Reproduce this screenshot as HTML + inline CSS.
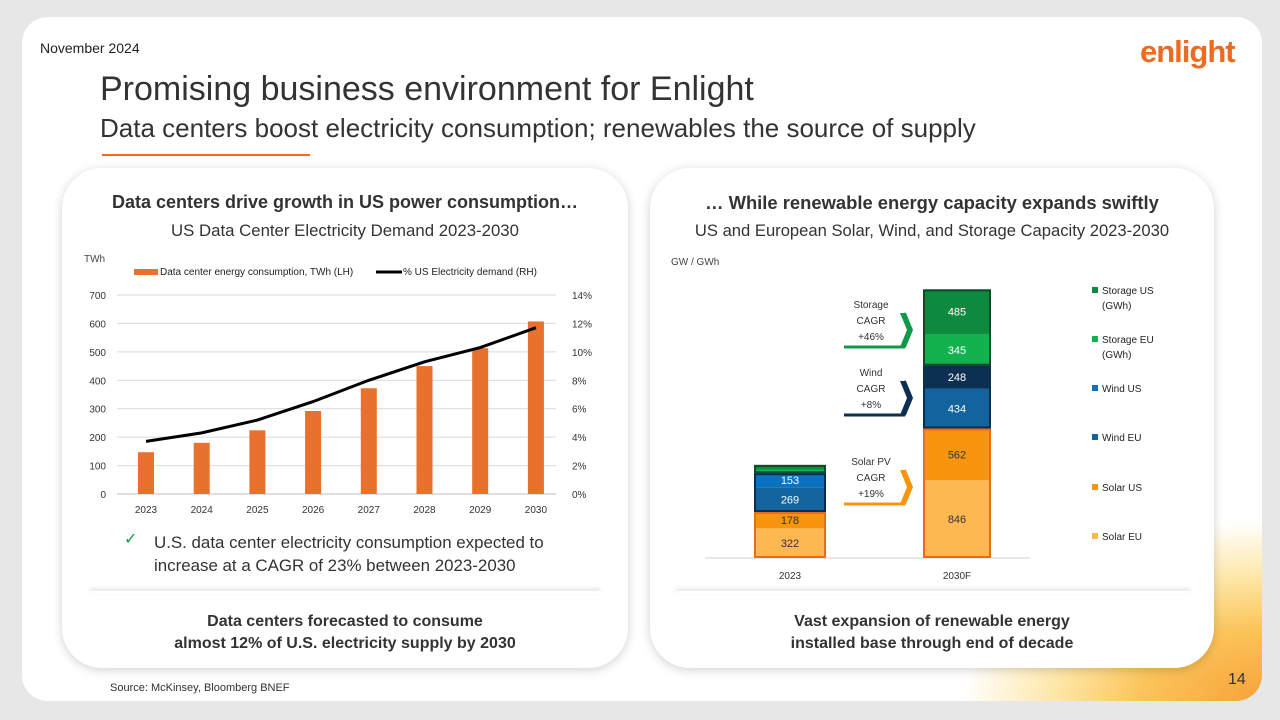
<!DOCTYPE html>
<html><head><meta charset="utf-8">
<style>
*{margin:0;padding:0;box-sizing:border-box}
body{width:1280px;height:720px;background:#e7e7e7;font-family:"Liberation Sans",sans-serif;position:relative;overflow:hidden}
.abs{position:absolute}
.slide{left:22px;top:17px;width:1240px;height:684px;background:#fff;border-radius:26px;overflow:hidden}
.glow{left:0;top:0;width:1240px;height:684px;background:radial-gradient(ellipse 300px 180px at 100% 100%,#f7a23a 0%,#fbc45a 40%,#fde6a5 68%,rgba(255,255,255,0) 100%)}
.card{background:#fff;border-radius:40px;box-shadow:0 2px 10px rgba(0,0,0,.18)}
.c{text-align:center;color:#333}
</style></head><body>
<div class="abs slide">
  <div class="abs glow"></div>
</div>
<div class="abs" style="left:40px;top:40px;font-size:14px;color:#222">November 2024</div>
<div class="abs" style="left:1140px;top:34px;font-size:31px;font-weight:bold;color:#ee6a1f;letter-spacing:-1px">enlight</div>
<div class="abs" style="left:100px;top:70px;font-size:34px;color:#333">Promising business environment for Enlight</div>
<div class="abs" style="left:100px;top:113px;font-size:26px;color:#333">Data centers boost electricity consumption; renewables the source of supply</div>
<div class="abs" style="left:102px;top:154px;width:208px;height:2px;background:#ee6a1f"></div>
<div class="abs" style="left:1228px;top:671px;font-size:16px;color:#333">14</div>
<div class="abs" style="left:110px;top:682px;font-size:11px;color:#333">Source: McKinsey, Bloomberg BNEF</div>

<div class="abs card" style="left:62px;top:168px;width:566px;height:500px"></div>
<div class="abs card" style="left:650px;top:168px;width:564px;height:500px"></div>
<div class="abs" style="left:90px;top:591px;width:510px;height:3px;box-shadow:0 -2px 4px rgba(0,0,0,.15)"></div>
<div class="abs" style="left:676px;top:591px;width:514px;height:3px;box-shadow:0 -2px 4px rgba(0,0,0,.15)"></div>

<div class="abs c" style="left:62px;top:192px;width:566px;font-size:18px;font-weight:bold">Data centers drive growth in US power consumption…</div>
<div class="abs c" style="left:62px;top:221px;width:566px;font-size:16.8px">US Data Center Electricity Demand 2023-2030</div>
<div class="abs c" style="left:650px;top:192px;width:564px;font-size:18.4px;font-weight:bold">… While renewable energy capacity expands swiftly</div>
<div class="abs c" style="left:650px;top:221px;width:564px;font-size:16.6px">US and European Solar, Wind, and Storage Capacity 2023-2030</div>

<div class="abs" style="left:124px;top:529px;font-size:16px;color:#1a9a4a">✓</div>
<div class="abs" style="left:154px;top:531px;font-size:16.9px;color:#333;line-height:23px">U.S. data center electricity consumption expected to<br>increase at a CAGR of 23% between 2023-2030</div>
<div class="abs c" style="left:62px;top:611px;width:566px;font-size:16px;font-weight:bold;line-height:22px">Data centers forecasted to consume<br>almost 12% of U.S. electricity supply by 2030</div>
<div class="abs c" style="left:650px;top:611px;width:564px;font-size:16px;font-weight:bold;line-height:22px">Vast expansion of renewable energy<br>installed base through end of decade</div>

<svg class="abs" style="left:0;top:0" width="1280" height="720" id="charts"></svg>
<script>
const years=["2023","2024","2025","2026","2027","2028","2029","2030"];
const twh=[147,180,224,292,372,450,513,607];
const pct=[3.7,4.3,5.2,6.5,8.0,9.3,10.3,11.7];
const leftTicks=[0,100,200,300,400,500,600,700];
const rightTicks=[0,2,4,6,8,10,12,14];
const stackCats=["2023","2030F"];
const seriesNames=["Solar EU","Solar US","Wind EU","Wind US","Storage EU (GWh)","Storage US (GWh)"];
const solarEU=[322,846];
const solarUS=[178,562];
const windEU=[269,434];
const windUS=[153,248];
const storageEU=[40,345];
const storageUS=[50,485];

const NS="http://www.w3.org/2000/svg";
const svg=document.getElementById('charts');
function mk(t,a,txt){const e=document.createElementNS(NS,t);for(const k in a)e.setAttribute(k,a[k]);if(txt!==undefined)e.textContent=txt;svg.appendChild(e);return e;}
const X=i=>146+i*55.7, Y=v=>494-v*199/700, YP=p=>494-p*199/14;
mk('text',{x:84,y:262,'font-size':10,fill:'#444'},'TWh');
leftTicks.forEach(t=>{
  const g=mk('line',{x1:117,x2:556,y1:Y(t),y2:Y(t),stroke:t?'#d9d9d9':'#bfbfbf','stroke-width':1});
  
  
  mk('text',{x:106,y:Y(t)+4,'font-size':10,fill:'#333','text-anchor':'end'},t);
});
rightTicks.forEach(t=>{mk('text',{x:572,y:YP(t)+4,'font-size':10,fill:'#333'},t+'%');});
twh.forEach((v,i)=>{
  const r=mk('rect',{x:X(i)-8,y:Y(v),width:16,height:494-Y(v),fill:'#e8712e'});
  
  
  mk('text',{x:X(i),y:513,'font-size':10,fill:'#333','text-anchor':'middle'},years[i]);
});
const ln=mk('polyline',{points:pct.map((p,i)=>X(i)+','+YP(p)).join(' '),fill:'none',stroke:'#000','stroke-width':3});


mk('rect',{x:134,y:269,width:24,height:6,fill:'#e8712e'});
mk('text',{x:160,y:275,'font-size':10,fill:'#222'},'Data center energy consumption, TWh (LH)');
mk('line',{x1:376,x2:402,y1:272,y2:272,stroke:'#000','stroke-width':3});
mk('text',{x:403,y:275,'font-size':10,fill:'#222'},'% US Electricity demand (RH)');
mk('text',{x:671,y:265,'font-size':10,fill:'#444'},'GW / GWh');
const base=558,k=0.092,cx=[790,957],bw=[72,68];
mk('line',{x1:705,x2:1030,y1:base,y2:base,stroke:'#d0d0d0'});
const series=[solarEU,solarUS,windEU,windUS,storageEU,storageUS];
const cols=['#fdb851','#f7950e','#13649e','#0b72bd','#12b24f','#0e8a3e'];
const txtCol=['#333','#333','#fff','#fff','#fff','#fff'];
const outl=['#e86c1a','#0b2e4f','#0c4a2a'];
stackCats.forEach((c,j)=>{
  let acc=0;const groupTop=[];
  series.forEach((s,si)=>{
    const y0=base-acc*k;acc+=s[j];const y1=base-acc*k;
    let fill=cols[si]; if(j===1&&si===3) fill='#0c2f52';
    const r=mk('rect',{x:cx[j]-bw[j]/2,y:y1,width:bw[j],height:y0-y1,fill:fill});
    
    
    if(y0-y1>12) mk('text',{x:cx[j],y:(y0+y1)/2+4,'font-size':11,fill:txtCol[si],'text-anchor':'middle'},s[j]);
    if(si%2===1) groupTop.push(y1);
  });
  let prev=base;
  groupTop.forEach((t,g)=>{mk('rect',{x:cx[j]-bw[j]/2+1,y:t+1,width:bw[j]-2,height:prev-t-2,fill:'none',stroke:outl[g],'stroke-width':2});prev=t;});
  mk('text',{x:cx[j],y:579,'font-size':10,fill:'#333','text-anchor':'middle'},c);
});
[[305,'Storage','+46%','#11994a'],[373,'Wind','+8%','#0c2f52'],[462,'Solar PV','+19%','#f7950e']].forEach(a=>{
  const y=a[0];
  mk('text',{x:871,y:y+3,'font-size':10,fill:'#333','text-anchor':'middle'},a[1]);
  mk('text',{x:871,y:y+19,'font-size':10,fill:'#333','text-anchor':'middle'},'CAGR');
  mk('text',{x:871,y:y+35,'font-size':10,fill:'#333','text-anchor':'middle'},a[2]);
  mk('polyline',{points:`844,${y+42} 904,${y+42} 911,${y+25} 904,${y+8}`,fill:'none',stroke:a[3],'stroke-width':3});
  mk('polygon',{points:`900,${y+8} 906,${y+8} 913,${y+25} 906,${y+42} 900,${y+42} 907,${y+25}`,fill:a[3]});
});
const legY=[292,341,390,439,489,538];
const legCols=['#0e8a3e','#12b24f','#0b72bd','#13649e','#f7950e','#fdb851'];
const legNames=[['Storage US','(GWh)'],['Storage EU','(GWh)'],['Wind US'],['Wind EU'],['Solar US'],['Solar EU']];
legNames.forEach((n,i)=>{
  const r=mk('rect',{x:1092,y:legY[i]-5,width:6,height:6,fill:legCols[i]});
  
  
  mk('text',{x:1102,y:legY[i]+2,'font-size':10,fill:'#222'},n[0]);
  if(n[1]) mk('text',{x:1102,y:legY[i]+17,'font-size':10,fill:'#222'},n[1]);
});
</script>
</body></html>
